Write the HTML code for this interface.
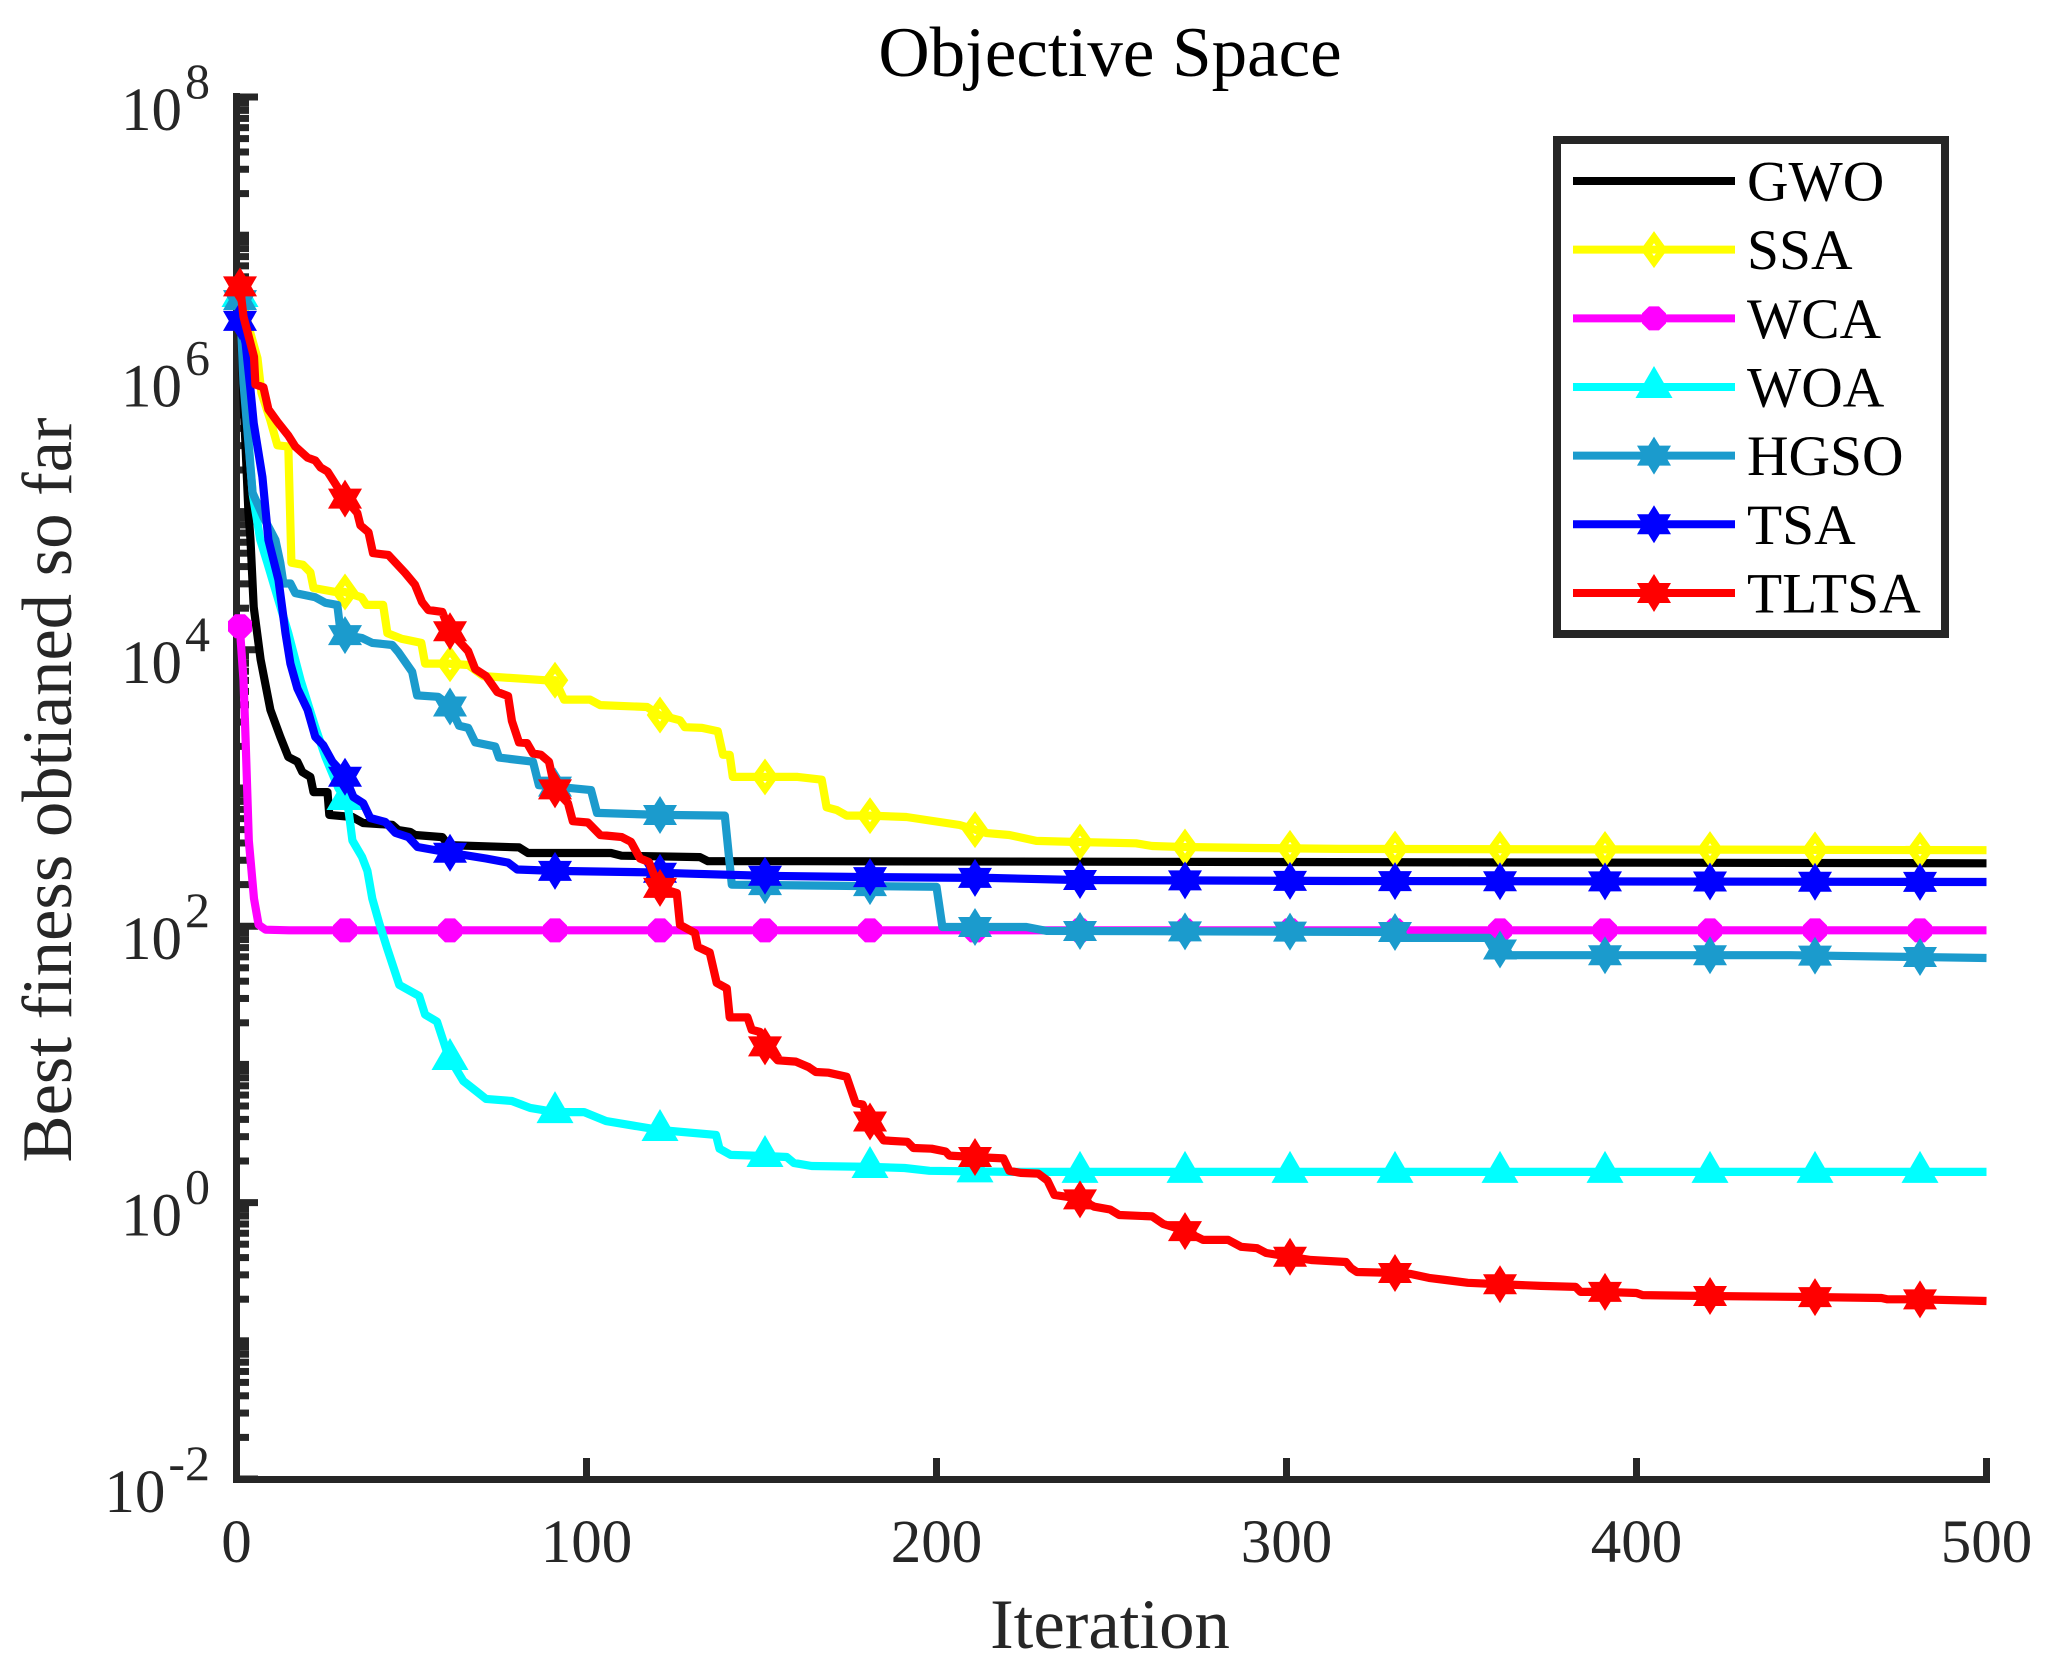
<!DOCTYPE html>
<html lang="en">
<head>
<meta charset="utf-8">
<title>Objective Space</title>
<style>
html,body{margin:0;padding:0;background:#fff;}
svg{display:block;font-family:"Liberation Serif",serif;}
</style>
</head>
<body>
<svg id="chart" xmlns="http://www.w3.org/2000/svg" width="2058" height="1675" viewBox="0 0 2058 1675">
  <rect x="0" y="0" width="2058" height="1675" fill="#fff"/>
  <g id="ticks"></g>
  <g id="series"></g>
  <g id="labels"></g>
  <text x="1110" y="76" font-size="71" text-anchor="middle" fill="#000">Objective Space</text>
  <text x="1110" y="1648" font-size="70.8" text-anchor="middle" fill="#262626">Iteration</text>
  <text transform="translate(71,790) rotate(-90)" font-size="70.6" text-anchor="middle" fill="#262626">Best finess obtianed so far</text>
  <g id="legend">
    <rect x="1557" y="140" width="388" height="494" fill="#fff" stroke="#262626" stroke-width="8"/>
  </g>
</svg>
<script>
const xTickValues = [0, 100, 200, 300, 400, 500];
const yMajorExponents = [8, 6, 4, 2, 0, -2];
const yMinorExponents = [7, 5, 3, 1, -1];
const minorMultipliers = [2, 3, 4, 5, 6, 7, 8, 9];
const markerIterations = [1, 31, 61, 91, 121, 151, 181, 211, 241, 271, 301, 331, 361, 391, 421, 451, 481];

const gwoIter = [1, 2, 3.4, 4, 4.9, 6.9, 9.7, 12.5, 14.8, 17.4, 18.8, 21.1, 22, 26, 26.5, 33.1, 36.2, 44.5, 46.2, 49.6, 51, 58.8, 60.5, 80.7, 83.3, 107, 110, 132.4, 134.7, 161.8, 500];
const gwoLog10 = [6.6, 5.81, 5.0, 4.795, 4.31, 3.93, 3.565, 3.37, 3.224, 3.19, 3.116, 3.08, 2.97, 2.97, 2.805, 2.79, 2.747, 2.733, 2.696, 2.682, 2.66, 2.645, 2.587, 2.57, 2.53, 2.53, 2.51, 2.50, 2.47, 2.47, 2.455];

const ssaIter = [1, 4, 6, 7.1, 9.7, 11.7, 14.8, 15.7, 19, 21.1, 22, 28, 30.8, 35.7, 37.1, 41.9, 43.1, 47.1, 52.8, 53.9, 60.5, 66.2, 70.5, 87.9, 91, 93.6, 101, 103.9, 117.3, 120.7, 126.7, 128.1, 133, 137.5, 139, 140.9, 141.8, 150.6, 160.3, 167.2, 168.6, 171.5, 174.3, 180.6, 191.4, 200.9, 206.6, 214.3, 220.8, 228.5, 238.8, 257, 261.6, 270.2, 291.3, 315, 500];
const ssaLog10 = [6.6, 6.29, 6.11, 5.86, 5.66, 5.48, 5.47, 4.63, 4.615, 4.56, 4.447, 4.42, 4.42, 4.38, 4.325, 4.325, 4.12, 4.08, 4.05, 3.90, 3.90, 3.89, 3.81, 3.78, 3.78, 3.64, 3.64, 3.60, 3.586, 3.53, 3.49, 3.44, 3.435, 3.41, 3.24, 3.24, 3.08, 3.08, 3.08, 3.06, 2.86, 2.84, 2.80, 2.80, 2.79, 2.754, 2.732, 2.674, 2.66, 2.617, 2.61, 2.60, 2.58, 2.573, 2.566, 2.559, 2.55];

const wcaIter = [1, 1.2, 2, 2.6, 3.5, 5, 6.3, 8.3, 15, 500];
const wcaLog10 = [4.17, 4.07, 3.78, 3.35, 2.62, 2.2, 2.01, 1.975, 1.97, 1.97];

const woaIter = [1, 2.6, 4.6, 6.8, 8.8, 14.8, 18.3, 22.5, 25.4, 29.1, 31, 32, 33.1, 35.9, 37.4, 38.8, 40.8, 43.1, 46.5, 52.2, 53.9, 57.3, 60.5, 64.8, 68.8, 71.3, 78.7, 83.9, 91, 99.3, 105.6, 121, 137, 138, 141.2, 151, 157.2, 159.2, 164.3, 181, 190.9, 198, 221.4, 500];
const woaLog10 = [6.56, 5.8, 5.13, 4.795, 4.63, 4.12, 3.78, 3.44, 3.225, 3.0, 2.92, 2.84, 2.62, 2.50, 2.40, 2.2, 2.02, 1.835, 1.575, 1.495, 1.36, 1.31, 1.06, 0.88, 0.80, 0.75, 0.735, 0.685, 0.655, 0.655, 0.59, 0.525, 0.49, 0.39, 0.345, 0.337, 0.33, 0.287, 0.265, 0.258, 0.25, 0.23, 0.222, 0.222];

const hgsoIter = [1, 2, 4.6, 7.7, 11.1, 12.5, 13.4, 15.4, 16.8, 22.5, 25.4, 28.8, 29.7, 30.8, 35.9, 38.8, 44.5, 46.2, 50.2, 51.6, 57.6, 60.8, 63.6, 66.2, 68.2, 73.9, 75, 84.7, 86.4, 91, 101.3, 103, 121, 139.5, 141.5, 181, 200, 201.7, 225.7, 231.4, 331, 334, 357.8, 362.6, 444, 500];
const hgsoLog10 = [6.53, 5.93, 5.135, 4.96, 4.795, 4.63, 4.48, 4.48, 4.41, 4.38, 4.34, 4.325, 4.14, 4.107, 4.085, 4.05, 4.035, 3.985, 3.84, 3.67, 3.66, 3.60, 3.45, 3.435, 3.33, 3.30, 3.22, 3.19, 3.02, 3.01, 2.985, 2.82, 2.805, 2.80, 2.30, 2.29, 2.285, 1.994, 1.994, 1.966, 1.958, 1.915, 1.915, 1.79, 1.79, 1.77];

const tsaIter = [1, 2.6, 4, 4.9, 7.4, 9.1, 12, 14, 15.4, 17.4, 20.3, 22.5, 24.8, 27.4, 30.8, 33.4, 36.2, 38.2, 42.5, 45.4, 49.1, 51.7, 59.7, 71.3, 77.6, 80.2, 91, 117, 129.8, 151, 181, 216, 240, 316, 500];
const tsaLog10 = [6.38, 6.22, 5.88, 5.64, 5.25, 4.795, 4.505, 4.12, 3.90, 3.72, 3.565, 3.37, 3.31, 3.19, 3.094, 2.935, 2.89, 2.783, 2.754, 2.675, 2.645, 2.573, 2.537, 2.49, 2.46, 2.41, 2.40, 2.39, 2.38, 2.365, 2.355, 2.349, 2.334, 2.327, 2.32];

const tltsaIter = [1, 2, 5, 5.4, 7.7, 9.1, 11.7, 14.8, 16.8, 20.3, 22.5, 24, 26, 30.8, 34.5, 35.4, 37.7, 39, 43.4, 48.2, 51, 53, 54.8, 58.8, 60.8, 66.2, 68.2, 71.3, 74.5, 77.6, 78.7, 80.7, 83, 84.7, 87, 89.3, 91, 94.7, 96.1, 100.4, 103.9, 110.1, 112.7, 115.3, 117.8, 120.7, 125.8, 126.7, 131, 131.8, 135.2, 137.2, 140.1, 140.9, 146, 147.2, 149.5, 151, 154.6, 159.8, 163.5, 165.5, 169.2, 174.3, 176.9, 178.9, 180.9, 184.9, 191.7, 193.4, 198.6, 202.6, 203.7, 210.8, 219.1, 220.8, 224, 229.1, 231.7, 233.7, 240.5, 245.1, 249.6, 252.2, 261.6, 264.8, 270.5, 276.2, 283.3, 287, 291.6, 294.2, 300.4, 307, 317, 318.4, 320.1, 330.7, 335.5, 340.7, 345.5, 351.8, 360.3, 372.6, 382.6, 384, 390.6, 400, 401.7, 420.3, 449.4, 470, 471.6, 480.5, 500];
const tltsaLog10 = [6.63, 6.41, 6.12, 5.92, 5.90, 5.74, 5.65, 5.55, 5.47, 5.39, 5.37, 5.32, 5.29, 5.10, 4.99, 4.90, 4.85, 4.70, 4.686, 4.556, 4.47, 4.346, 4.288, 4.274, 4.14, 3.99, 3.86, 3.81, 3.695, 3.665, 3.485, 3.33, 3.325, 3.25, 3.24, 3.19, 2.99, 2.89, 2.76, 2.75, 2.66, 2.645, 2.61, 2.49, 2.465, 2.28, 2.24, 2.01, 1.95, 1.85, 1.81, 1.59, 1.55, 1.34, 1.34, 1.25, 1.235, 1.13, 1.03, 1.02, 0.98, 0.945, 0.94, 0.91, 0.72, 0.71, 0.59, 0.45, 0.44, 0.395, 0.39, 0.37, 0.34, 0.33, 0.32, 0.23, 0.215, 0.21, 0.16, 0.055, 0.03, -0.03, -0.05, -0.09, -0.10, -0.155, -0.20, -0.27, -0.27, -0.32, -0.33, -0.365, -0.39, -0.415, -0.43, -0.473, -0.502, -0.509, -0.517, -0.545, -0.56, -0.58, -0.59, -0.603, -0.61, -0.646, -0.646, -0.654, -0.669, -0.676, -0.683, -0.69, -0.70, -0.70, -0.712];

const seriesNames = ['GWO', 'SSA', 'WCA', 'WOA', 'HGSO', 'TSA', 'TLTSA'];
const seriesColors = ['#000000', '#ffff00', '#ff00ff', '#00ffff', '#1b9bcd', '#0000ff', '#ff0000'];
const seriesMarkers = ['none', 'diamond', 'circle', 'triangle', 'hexagram', 'hexagram', 'hexagram'];
const seriesIters = [gwoIter, ssaIter, wcaIter, woaIter, hgsoIter, tsaIter, tltsaIter];
const seriesValues = [gwoLog10, ssaLog10, wcaLog10, woaLog10, hgsoLog10, tsaLog10, tltsaLog10];

const NS = 'http://www.w3.org/2000/svg';
const AXIS = '#262626';
const xScale = function (it) { return 236.5 + 3.5 * it; };
const yScale = function (exp) { return 97 + (8 - exp) * 138.2; };

function make(tag, attrs, parent) {
  const el = document.createElementNS(NS, tag);
  Object.keys(attrs).forEach(function (k) { el.setAttribute(k, attrs[k]); });
  parent.appendChild(el);
  return el;
}

function valueAt(iters, vals, it) {
  if (it <= iters[0]) return vals[0];
  for (let i = 1; i < iters.length; i++) {
    if (it <= iters[i]) {
      const t = (it - iters[i - 1]) / (iters[i] - iters[i - 1]);
      return vals[i - 1] + t * (vals[i] - vals[i - 1]);
    }
  }
  return vals[vals.length - 1];
}

function drawMarker(kind, cx, cy, color, parent, name) {
  let el = null;
  if (kind === 'diamond') {
    el = make('polygon', {
      points: [cx, cy - 12.5, cx + 9, cy, cx, cy + 12.5, cx - 9, cy].join(','),
      fill: 'none', stroke: color, 'stroke-width': 7, 'stroke-linejoin': 'miter'
    }, parent);
  } else if (kind === 'circle') {
    const octagon = [[-5, -12], [5, -12], [12, -5], [12, 5], [5, 12], [-5, 12], [-12, 5], [-12, -5]];
    el = make('polygon', {
      points: octagon.map(function (p) { return (cx + p[0]) + ',' + (cy + p[1]); }).join(' '),
      fill: color
    }, parent);
  } else if (kind === 'triangle') {
    el = make('polygon', {
      points: [cx, cy - 21, cx + 18.5, cy + 11, cx - 18.5, cy + 11].join(','),
      fill: color
    }, parent);
  } else if (kind === 'hexagram') {
    const pts = [
      [0, -19], [5.6, -10], [17, -10], [11.2, 0], [17, 10], [5.6, 10],
      [0, 19], [-5.6, 10], [-17, 10], [-11.2, 0], [-17, -10], [-5.6, -10]
    ];
    el = make('polygon', {
      points: pts.map(function (p) { return (cx + p[0]) + ',' + (cy + p[1]); }).join(' '),
      fill: color
    }, parent);
  }
  if (el) {
    
    
  }
}

const tickGroup = document.getElementById('ticks');
const labelGroup = document.getElementById('labels');
const seriesGroup = document.getElementById('series');
const legendGroup = document.getElementById('legend');

function hTick(yPos, len) {
  const t = make('line', { x1: 233, x2: 233 + len, y1: yPos, y2: yPos, stroke: AXIS, 'stroke-width': 7 }, tickGroup);
  
  
}

yMajorExponents.forEach(function (e) {
  hTick(yScale(e), 25);
  const tx = make('text', { x: 210, y: yScale(e) + 33, 'font-size': 61, 'text-anchor': 'end', fill: AXIS }, labelGroup);
  
  
  const base = make('tspan', {}, tx);
  base.textContent = '10';
  const sup = make('tspan', { dy: -32, 'font-size': 50, dx: 3 }, tx);
  sup.textContent = String(e);
});
yMinorExponents.forEach(function (e) { hTick(yScale(e), 16); });
yMajorExponents.concat(yMinorExponents).forEach(function (e) {
  if (e >= 8) return;
  minorMultipliers.forEach(function (m) { hTick(yScale(e + Math.log10(m)), 16); });
});

xTickValues.forEach(function (v) {
  const t = make('line', { x1: xScale(v), x2: xScale(v), y1: 1458, y2: 1480, stroke: AXIS, 'stroke-width': 7 }, tickGroup);
  
  
  const tx = make('text', { x: xScale(v), y: 1562, 'font-size': 61, 'text-anchor': 'middle', fill: AXIS }, labelGroup);
  
  
  tx.textContent = String(v);
});

const yAxisLine = make('line', { x1: 236.5, x2: 236.5, y1: 93, y2: 1483, stroke: AXIS, 'stroke-width': 7 }, tickGroup);


const xAxisLine = make('line', { x1: 233, x2: 1990, y1: 1479.5, y2: 1479.5, stroke: AXIS, 'stroke-width': 7 }, tickGroup);



seriesNames.forEach(function (name, i) {
  const iters = seriesIters[i];
  const vals = seriesValues[i];
  const color = seriesColors[i];
  const key = name.toLowerCase();
  const g = make('g', {}, seriesGroup);
  
  
  const line = make('polyline', {
    points: iters.map(function (it, j) { return xScale(it).toFixed(1) + ',' + yScale(vals[j]).toFixed(1); }).join(' '),
    fill: 'none', stroke: color, 'stroke-width': 8.2, 'stroke-linejoin': 'round', 'stroke-linecap': 'butt'
  }, g);
  
  
  markerIterations.forEach(function (it) {
    drawMarker(seriesMarkers[i], xScale(it), yScale(valueAt(iters, vals, it)), color, g, 'marker-' + key);
  });

  const ly = 181 + i * 68.66;
  const entry = make('g', {}, legendGroup);
  
  
  const sw = make('line', { x1: 1573, x2: 1735, y1: ly, y2: ly, stroke: color, 'stroke-width': 8 }, entry);
  
  
  drawMarker(seriesMarkers[i], 1654, ly, color, entry, 'legend-marker-' + key);
  const lt = make('text', { x: 1747, y: ly + 19.5, 'font-size': 57.5, fill: '#000' }, entry);
  
  
  lt.textContent = name;
});
</script>
</body>
</html>
